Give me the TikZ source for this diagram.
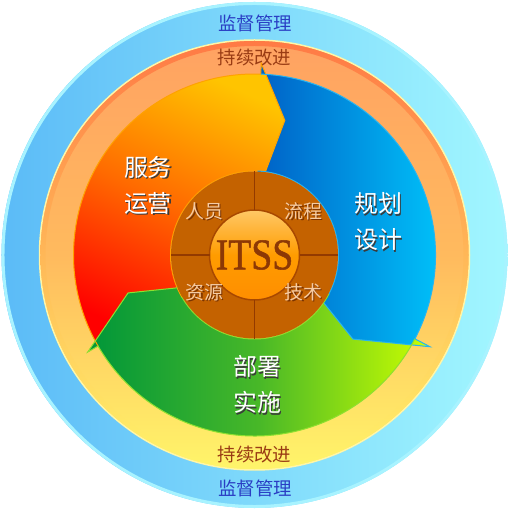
\documentclass[tikz,border=0pt]{standalone}
\usepackage{fontspec}
\setmainfont{Noto Sans CJK SC}
\newfontfamily\itssfont[FakeBold=1.2]{Liberation Serif}

\definecolor{ringsky}{HTML}{5BBBF7}
\definecolor{ringice}{HTML}{A2F7FF}
\definecolor{ringrim}{HTML}{A8F3FF}
\definecolor{ringpeach}{HTML}{FFA262}
\definecolor{ringamber}{HTML}{FFBA5E}
\definecolor{ringlemon}{HTML}{FFF56A}
\definecolor{ringcoral}{HTML}{FF7A45}
\definecolor{ringline}{HTML}{FFF6A8}
\definecolor{opstop}{HTML}{FFC400}
\definecolor{opsmid}{HTML}{FF6A00}
\definecolor{opsbot}{HTML}{FF0000}
\definecolor{opsedge}{HTML}{FFA200}
\definecolor{planleft}{HTML}{0060C6}
\definecolor{planright}{HTML}{00CCFF}
\definecolor{planedge}{HTML}{28B4F0}
\definecolor{deployleft}{HTML}{00963A}
\definecolor{deploymid}{HTML}{48B828}
\definecolor{deployright}{HTML}{CCFF00}
\definecolor{deployedge}{HTML}{8EE030}
\definecolor{hubfill}{HTML}{C46200}
\definecolor{hubline}{HTML}{933A00}
\definecolor{coretop}{HTML}{FFC866}
\definecolor{coremid}{HTML}{FF9C00}
\definecolor{corebot}{HTML}{FF8E00}
\definecolor{coreedge}{HTML}{A84800}
\definecolor{coretext}{HTML}{8C3805}
\definecolor{parttext}{HTML}{F6CBA2}
\definecolor{partshade}{HTML}{7A3300}
\definecolor{labelshade}{HTML}{3A3A3A}
\definecolor{supertext}{HTML}{2A3EC4}
\definecolor{improvetext}{HTML}{9A3C14}

% text with a small drop shadow
\newcommand{\shd}[2]{{\color{#1}\rlap{\kern1.5pt\raisebox{-1.5pt}{#2}}}#2}

% arrow of the cycle: previous wing angle/radius, previous tip, own wing angle/radius, own tip
\newcommand{\cyclearrow}[8]{(#1:181) -- (#1:#2) -- (#3:#4) -- (#1:60) -- (#1:84)
  arc[start angle=#1, end angle=#5, radius=84] -- (#5:60) -- (#7:#8) -- (#5:#6)
  -- (#5:181) arc[start angle=#5, end angle=#1, radius=181] -- cycle}
% its outline, without the tail
\newcommand{\cycleedge}[5]{(#1:84) arc[start angle=#1, end angle=#2, radius=84]
  -- (#2:60) -- (#4:#5) -- (#2:#3) -- (#2:181) arc[start angle=#2, end angle=#1, radius=181]}

\begin{document}
\begin{tikzpicture}[x=1bp, y=1bp,
  cyclabel/.style={text=white, align=center, font=\fontsize{24}{36}\selectfont},
  partlabel/.style={text=parttext, font=\fontsize{19}{22}\selectfont},
  superlabel/.style={text=supertext, font=\fontsize{18.5}{22}\selectfont},
  improvelabel/.style={text=improvetext, font=\fontsize{18.5}{22}\selectfont},
  spoke/.style={hubline, line width=1.8}]
\useasboundingbox (-254.5,-255) rectangle (254.5,255);

% rings
\shade[left color=ringsky, right color=ringice] (0,0) circle[radius=253];
\draw[ringrim, line width=3] (0,0) circle[radius=251.5];
\shadedraw[top color=ringpeach, bottom color=ringlemon, middle color=ringamber, draw=ringline, line width=1.5] (0,0) circle[radius=215];
\shade[top color=ringcoral, bottom color=ringlemon, even odd rule] (0,0) circle[radius=214] circle[radius=209];

% the three arrows
\shade[top color=opstop, bottom color=opsbot, middle color=opsmid, shading angle=-25] \cyclearrow{210.2}{193}{196.7}{132}{88}{192}{77.3}{138};
\shade[left color=planleft, right color=planright] \cyclearrow{88}{192}{77.3}{138}{-27.6}{198}{-40.5}{129.5};
\shade[left color=deployleft, right color=deployright, middle color=deploymid] \cyclearrow{-27.6}{198}{-40.5}{129.5}{-149.8}{193}{-163.3}{132};
\draw[opsedge, line width=1] \cycleedge{210.2}{88}{192}{77.3}{138};
\draw[planedge, line width=1] \cycleedge{88}{-27.6}{198}{-40.5}{129.5};
\draw[deployedge, line width=1] \cycleedge{-27.6}{-149.8}{193}{-163.3}{132};

% hub
\node[circle, minimum size=167bp, inner sep=0, outer sep=0, fill=hubfill] (hub) at (0,0) {};
\node[circle, minimum size=90bp, inner sep=0, outer sep=0, draw=coreedge, line width=1.5,
  top color=coretop, bottom color=corebot, middle color=coremid,
  text=coretext, font=\itssfont\fontsize{44}{50}\selectfont] (core) at (0,0) {\scalebox{0.86}[1]{ITSS}};
\draw[spoke] (core.north) -- (hub.north);
\draw[spoke] (core.south) -- (hub.south);
\draw[spoke] (core.east) -- (hub.east);
\draw[spoke] (core.west) -- (hub.west);

\node[partlabel] (people) at (-50,43) {\shd{partshade}{人员}};
\node[partlabel] (process) at (49,43) {\shd{partshade}{流程}};
\node[partlabel] (resource) at (-50,-38) {\shd{partshade}{资源}};
\node[partlabel] (technology) at (49,-38) {\shd{partshade}{技术}};

\node[cyclabel] (ops) at (-106.5,69) {\shd{labelshade}{服务}\\\shd{labelshade}{运营}};
\node[cyclabel] (plan) at (123.5,32.5) {\shd{labelshade}{规划}\\\shd{labelshade}{设计}};
\node[cyclabel] (deploy) at (2.5,-130.5) {\shd{labelshade}{部署}\\\shd{labelshade}{实施}};

\node[superlabel] (supertop) at (0.5,232) {监督管理};
\node[superlabel] (superbottom) at (0.5,-233) {监督管理};
\node[improvelabel] (improvetop) at (0,197) {持续改进};
\node[improvelabel] (improvebottom) at (0,-200) {持续改进};
\end{tikzpicture}
\end{document}
